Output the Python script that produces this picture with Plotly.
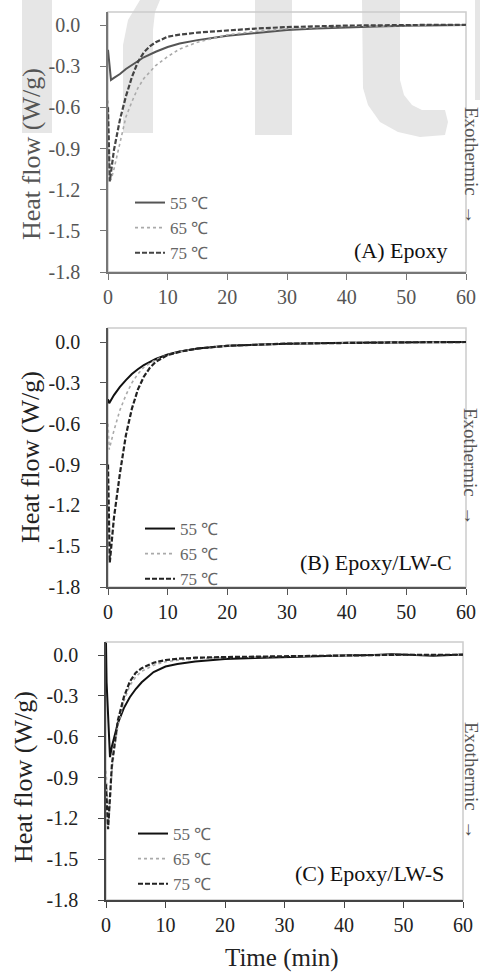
import plotly.graph_objects as go

W, H = 480, 972
FONT = "Liberation Serif"

# ---------------- data ----------------
series_names = ["55 ℃", "65 ℃", "75 ℃"]

# Panel A: Epoxy
tA55 = [0, 0.5, 1, 2, 3, 4, 5, 6, 8, 10, 12, 15, 20, 25, 30, 35, 40, 45, 50, 60]
vA55 = [-0.18, -0.40, -0.385, -0.357, -0.32, -0.29, -0.262, -0.235, -0.195, -0.16, -0.135, -0.11, -0.078,
        -0.055, -0.036, -0.026, -0.017, -0.011, -0.006, 0.0]
tA65 = [0, 0.2, 0.5, 1, 2, 3, 4, 5, 6, 7, 8, 10, 12, 15, 20, 25, 30, 40, 50, 60]
vA65 = [-0.55, -1.05, -1.13, -1.05, -0.86, -0.67, -0.56, -0.46, -0.39, -0.34, -0.295, -0.23, -0.175, -0.125,
        -0.072, -0.045, -0.027, -0.009, -0.003, 0.0]
tA75 = [0, 0.3, 1, 2, 3, 4, 5, 6, 7, 8, 10, 12, 15, 20, 25, 30, 35, 40, 50, 60]
vA75 = [-0.6, -1.14, -0.91, -0.69, -0.52, -0.38, -0.27, -0.2, -0.155, -0.125, -0.085, -0.07, -0.055, -0.038,
        -0.025, -0.015, -0.008, -0.004, 0.0, 0.002]

# Panel B: Epoxy/LW-C
tB55 = [0, 0.2, 1, 2, 3, 4, 5, 6, 8, 10, 12, 15, 20, 25, 30, 40, 50, 60]
vB55 = [-0.42, -0.45, -0.39, -0.33, -0.28, -0.235, -0.20, -0.17, -0.125, -0.092, -0.07, -0.048, -0.028,
        -0.018, -0.012, -0.005, -0.002, 0.0]
tB65 = [0, 0.2, 1, 2, 3, 4, 5, 6, 8, 10, 12, 15, 20, 30, 40, 50, 60]
vB65 = [-0.6, -0.79, -0.65, -0.50, -0.39, -0.30, -0.235, -0.185, -0.13, -0.094, -0.071, -0.048, -0.028,
        -0.012, -0.005, -0.002, 0.0]
tB75 = [0, 0.15, 0.3, 1, 1.5, 2, 3, 4, 5, 6, 7, 8, 10, 12, 15, 20, 30, 40, 50, 60]
vB75 = [-0.9, -1.5, -1.62, -1.29, -1.12, -0.965, -0.685, -0.49, -0.35, -0.255, -0.19, -0.145, -0.096,
        -0.072, -0.048, -0.028, -0.012, -0.005, -0.002, 0.0]

# Panel C: Epoxy/LW-S
tC55 = [0, 0.1, 0.67, 1, 2, 3, 4, 5, 6, 8, 10, 12, 15, 20, 25, 30, 35, 40, 45, 48, 52, 55, 58, 60]
vC55 = [0.09, -0.2, -0.75, -0.67, -0.50, -0.39, -0.31, -0.25, -0.20, -0.125, -0.085, -0.066, -0.048,
        -0.03, -0.022, -0.015, -0.01, -0.004, 0.0, 0.006, 0.0, -0.006, 0.0, 0.004]
tC65 = [0, 0.45, 1, 1.5, 2, 3, 4, 5, 6, 8, 10, 12, 15, 20, 30, 40, 50, 60]
vC65 = [-0.85, -1.23, -0.85, -0.66, -0.52, -0.34, -0.225, -0.16, -0.12, -0.075, -0.05, -0.038, -0.028,
        -0.018, -0.01, -0.002, 0.002, 0.002]
tC75 = [0, 0.35, 1, 1.5, 2, 3, 4, 5, 6, 8, 10, 12, 15, 20, 30, 40, 50, 60]
vC75 = [-0.95, -1.28, -0.80, -0.62, -0.48, -0.31, -0.196, -0.13, -0.097, -0.057, -0.037, -0.028, -0.02,
        -0.015, -0.008, -0.002, 0.002, 0.002]

x_ticks = [0, 10, 20, 30, 40, 50, 60]
y_ticks = [0.0, -0.3, -0.6, -0.9, -1.2, -1.5, -1.8]
y_tick_labels = ["0.0", "-0.3", "-0.6", "-0.9", "-1.2", "-1.5", "-1.8"]
panel_labels = ["(A) Epoxy", "(B) Epoxy/LW-C", "(C) Epoxy/LW-S"]

# ---------------- layout helpers (pixel -> paper) ----------------
def px(x):
    return x / W

def py(y):
    return 1 - y / H

# panel boxes in pixels: left, right, top, bottom
boxes = [(108, 466, 12, 272), (108, 466, 328, 587), (106, 463, 642, 900)]
yranges = [[-1.8, 0.095], [-1.8, 0.103], [-1.8, 0.0955]]

panels = [
    [(tA55, vA55), (tA65, vA65), (tA75, vA75)],
    [(tB55, vB55), (tB65, vB65), (tB75, vB75)],
    [(tC55, vC55), (tC65, vC65), (tC75, vC75)],
]
line_colors = [["#555555", "#aaaaaa", "#444444"],
               ["#111111", "#aaaaaa", "#222222"],
               ["#111111", "#aaaaaa", "#222222"]]
line_styles = [("solid", 2), ("dot", 1.6), ("5px,2px", 2.2)]
text_colors = ["#555555", "#222222", "#222222"]
axis_colors = ["#777777", "#555555", "#444444"]

fig = go.Figure()
legend_names = ["legend", "legend2", "legend3"]

for i, series in enumerate(panels):
    xa = "x" if i == 0 else f"x{i+1}"
    ya = "y" if i == 0 else f"y{i+1}"
    for j, (t, v) in enumerate(series):
        dash, width = line_styles[j]
        fig.add_trace(go.Scatter(
            x=t, y=v, mode="lines", name=series_names[j],
            line=dict(color=line_colors[i][j], width=width, dash=dash),
            xaxis=xa, yaxis=ya, legend=legend_names[i], showlegend=True,
        ))

layout = dict(
    width=W, height=H,
    margin=dict(l=0, r=0, t=0, b=0, autoexpand=False),
    paper_bgcolor="white", plot_bgcolor="rgba(0,0,0,0)",
    font=dict(family=FONT, color="#222"),
)

legend_pos = [(130, 185), (140, 511), (133, 816)]
for i, (l, r, t, b) in enumerate(boxes):
    suffix = "" if i == 0 else str(i + 1)
    layout["xaxis" + suffix] = dict(
        domain=[px(l), px(r)], range=[0, 60], anchor="y" + suffix, automargin=False,
        tickvals=x_ticks, ticks="outside", ticklen=6, tickcolor=axis_colors[i],
        showline=True, linecolor=axis_colors[i], linewidth=1.5,
        showgrid=False, zeroline=False, ticklabelstandoff=0,
        tickfont=dict(family=FONT, size=20, color=text_colors[i]),
    )
    layout["yaxis" + suffix] = dict(
        domain=[py(b), py(t)], range=yranges[i], anchor="x" + suffix, automargin=False,
        tickvals=y_ticks, ticktext=y_tick_labels, ticks="outside", ticklen=6,
        tickcolor=axis_colors[i], showline=True, linecolor=axis_colors[i], linewidth=1.5,
        showgrid=False, zeroline=False, ticklabelstandoff=16,
        tickfont=dict(family=FONT, size=20, color=text_colors[i]),
    )
    lx, ly = legend_pos[i]
    layout[legend_names[i]] = dict(
        x=px(lx), y=py(ly), xanchor="left", yanchor="top",
        bgcolor="rgba(0,0,0,0)", borderwidth=0, tracegroupgap=0,
        font=dict(family=FONT, size=17, color="#666666"),
    )

fig.update_layout(**layout)

# ---------------- watermark (light grey letters behind panel A) ----------------
WM = "#e6e6e6"
def poly(points):
    s = "M " + " L ".join(f"{px(x):.5f},{py(y):.5f}" for x, y in points) + " Z"
    return s

wm_shapes = [
    [(22, 0), (52, 0), (52, 133), (22, 133)],
    [(140, 0), (160, 0), (155, 12), (153, 30), (153, 133), (123, 133), (123, 45), (128, 20)],
    [(255, 0), (292, 0), (292, 135), (255, 135)],
    [(362, 0), (400, 0), (400, 80), (404, 95), (412, 105), (422, 110), (445, 110), (448, 122),
     (445, 135), (420, 137), (398, 132), (380, 122), (368, 105), (363, 88)],
    [(475, 0), (480, 0), (480, 100), (475, 100)],
]
for pts in wm_shapes:
    fig.add_shape(type="path", path=poly(pts), xref="paper", yref="paper",
                  fillcolor=WM, line=dict(width=0), layer="below")

# light grey frame (top & right borders)
for i in range(3):
    suffix = "" if i == 0 else str(i + 1)
    fig.add_shape(type="rect", xref=f"x{suffix} domain", yref=f"y{suffix} domain",
                  x0=0, x1=1, y0=0, y1=1, line=dict(color="#cccccc", width=1.5),
                  layer="below")

# ---------------- annotations ----------------
def note(text, x, y, size, color, angle=0):
    fig.add_annotation(text=text, x=px(x), y=py(y), xref="paper", yref="paper",
                       xanchor="center", yanchor="middle", showarrow=False,
                       textangle=angle, font=dict(family=FONT, size=size, color=color))

ytitle_pos = [(31, 154), (31, 457), (23, 777)]
label_pos = [(400, 250), (376, 562), (369, 873)]
exo_pos = [(471, 165), (471, 466), (472, 780)]
for i in range(3):
    note("Heat flow (W/g)", *ytitle_pos[i], 26, text_colors[i], -90)
    note(panel_labels[i], *label_pos[i], 22, "#111111")
    note("Exothermic  →", *exo_pos[i], 19, "#555555", 90)

note("Time (min)", 282, 958, 25, "#222222")

fig.write_html("out.html", config={"displayModeBar": False},
               post_script="document.body.style.margin='0';")
